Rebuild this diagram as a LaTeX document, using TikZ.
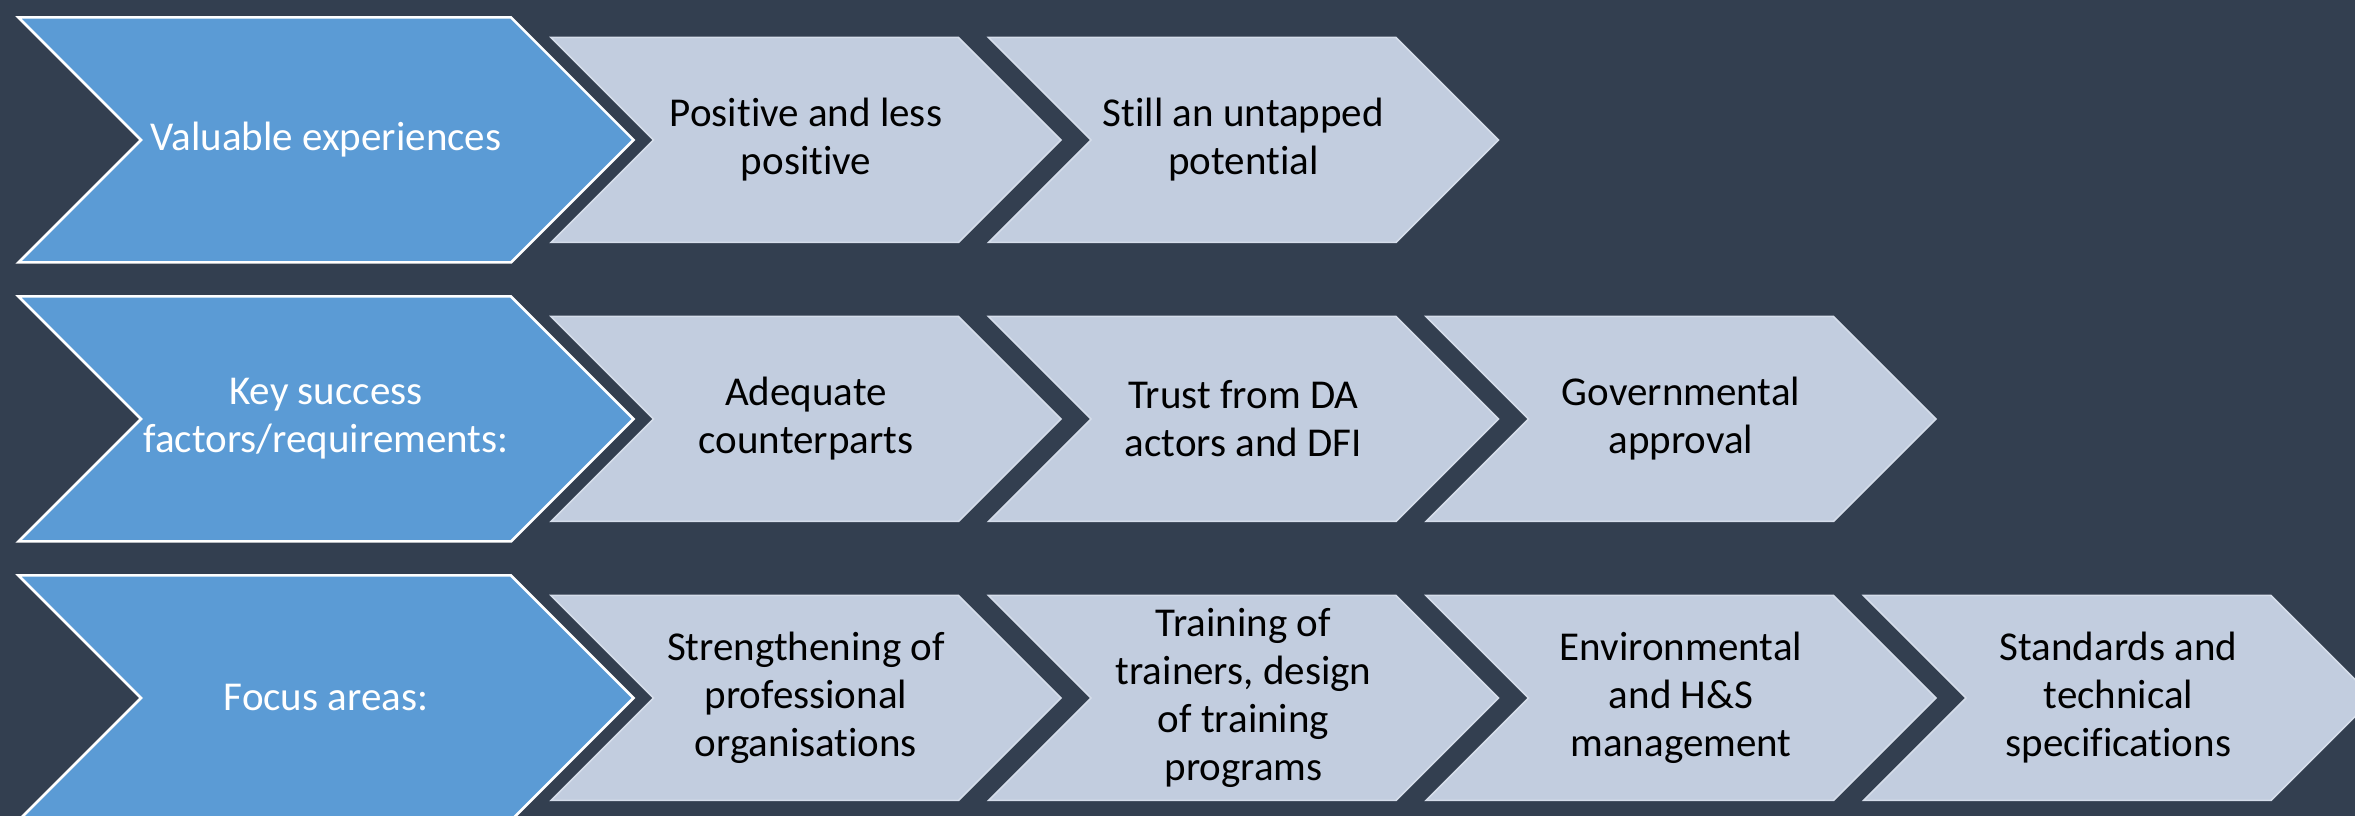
\documentclass[tikz,border=0pt]{standalone}
\usepackage{fontspec}
\setmainfont{Carlito}[Ligatures=NoCommon]
\usetikzlibrary{positioning, backgrounds}
\definecolor{slate}{HTML}{333F50}
\definecolor{headblue}{HTML}{5B9BD5}
\definecolor{itemgrey}{HTML}{C2CDDF}
\definecolor{itemedge}{HTML}{D5DDEA}
% chevron round a node: style, node, half width, half height
\newcommand{\chevron}[4]{\filldraw[#1] ([xshift=-#3pt,yshift=#4pt]#2.center) -- ++(2*#3-#4,0) -- ++(#4,-#4) -- ++(-#4,-#4) -- ++(#4-2*#3,0) -- ++(#4,#4) -- cycle;}

\begin{document}
\begin{tikzpicture}[x=1pt, y=1pt, node distance=279pt and 437.5pt, on grid]
      \tikzstyle{every node}=[align=center, font=\fontsize{41}{48}\selectfont]
      \tikzstyle{head}=[text=white]
      \tikzstyle{item}=[text=black]
      \useasboundingbox (0,0) rectangle (2355,816);
      % first column
      \node[head] (valexp) at (326,676) {Valuable experiences};
      \node[head] (keysucc) [below = of valexp] {Key success\\factors/requirements:};
      \node[head] (focus) [below = of keysucc] {Focus areas:};
      % row 1
      \node[item] (posneg) at (806,676) {Positive and less\\positive};
      \node[item] (untapped) [right = of posneg] {Still an untapped\\potential};
      % row 2
      \node[item] (counterp) [below = of posneg] {Adequate\\counterparts};
      \node[item] (trust) [right = of counterp] {Trust from DA\\actors and DFI};
      \node[item] (approval) [right = of trust] {Governmental\\approval};
      % row 3
      \node[item] (strength) [below = of counterp] {Strengthening of\\professional\\organisations};
      \node[item] (training) [right = of strength] {Training of\\trainers, design\\of training\\programs};
      \node[item] (envhs) [right = of training] {Environmental\\and H\&S\\management};
      \node[item] (standards) [right = of envhs] {Standards and\\technical\\specifications};
      \begin{scope}[on background layer]
        \fill[slate] (0,0) rectangle (2355,816);
        \chevron{fill=headblue, draw=white, line width=2.5pt}{valexp}{307.5}{122.5}
        \chevron{fill=headblue, draw=white, line width=2.5pt}{keysucc}{307.5}{122.5}
        \chevron{fill=headblue, draw=white, line width=2.5pt}{focus}{307.5}{122.5}
        \chevron{fill=itemgrey, draw=itemedge, line width=1.5pt}{posneg}{255}{102.5}
        \chevron{fill=itemgrey, draw=itemedge, line width=1.5pt}{untapped}{255}{102.5}
        \chevron{fill=itemgrey, draw=itemedge, line width=1.5pt}{counterp}{255}{102.5}
        \chevron{fill=itemgrey, draw=itemedge, line width=1.5pt}{trust}{255}{102.5}
        \chevron{fill=itemgrey, draw=itemedge, line width=1.5pt}{approval}{255}{102.5}
        \chevron{fill=itemgrey, draw=itemedge, line width=1.5pt}{strength}{255}{102.5}
        \chevron{fill=itemgrey, draw=itemedge, line width=1.5pt}{training}{255}{102.5}
        \chevron{fill=itemgrey, draw=itemedge, line width=1.5pt}{envhs}{255}{102.5}
        \chevron{fill=itemgrey, draw=itemedge, line width=1.5pt}{standards}{255}{102.5}
      \end{scope}
    \end{tikzpicture}
\end{document}
